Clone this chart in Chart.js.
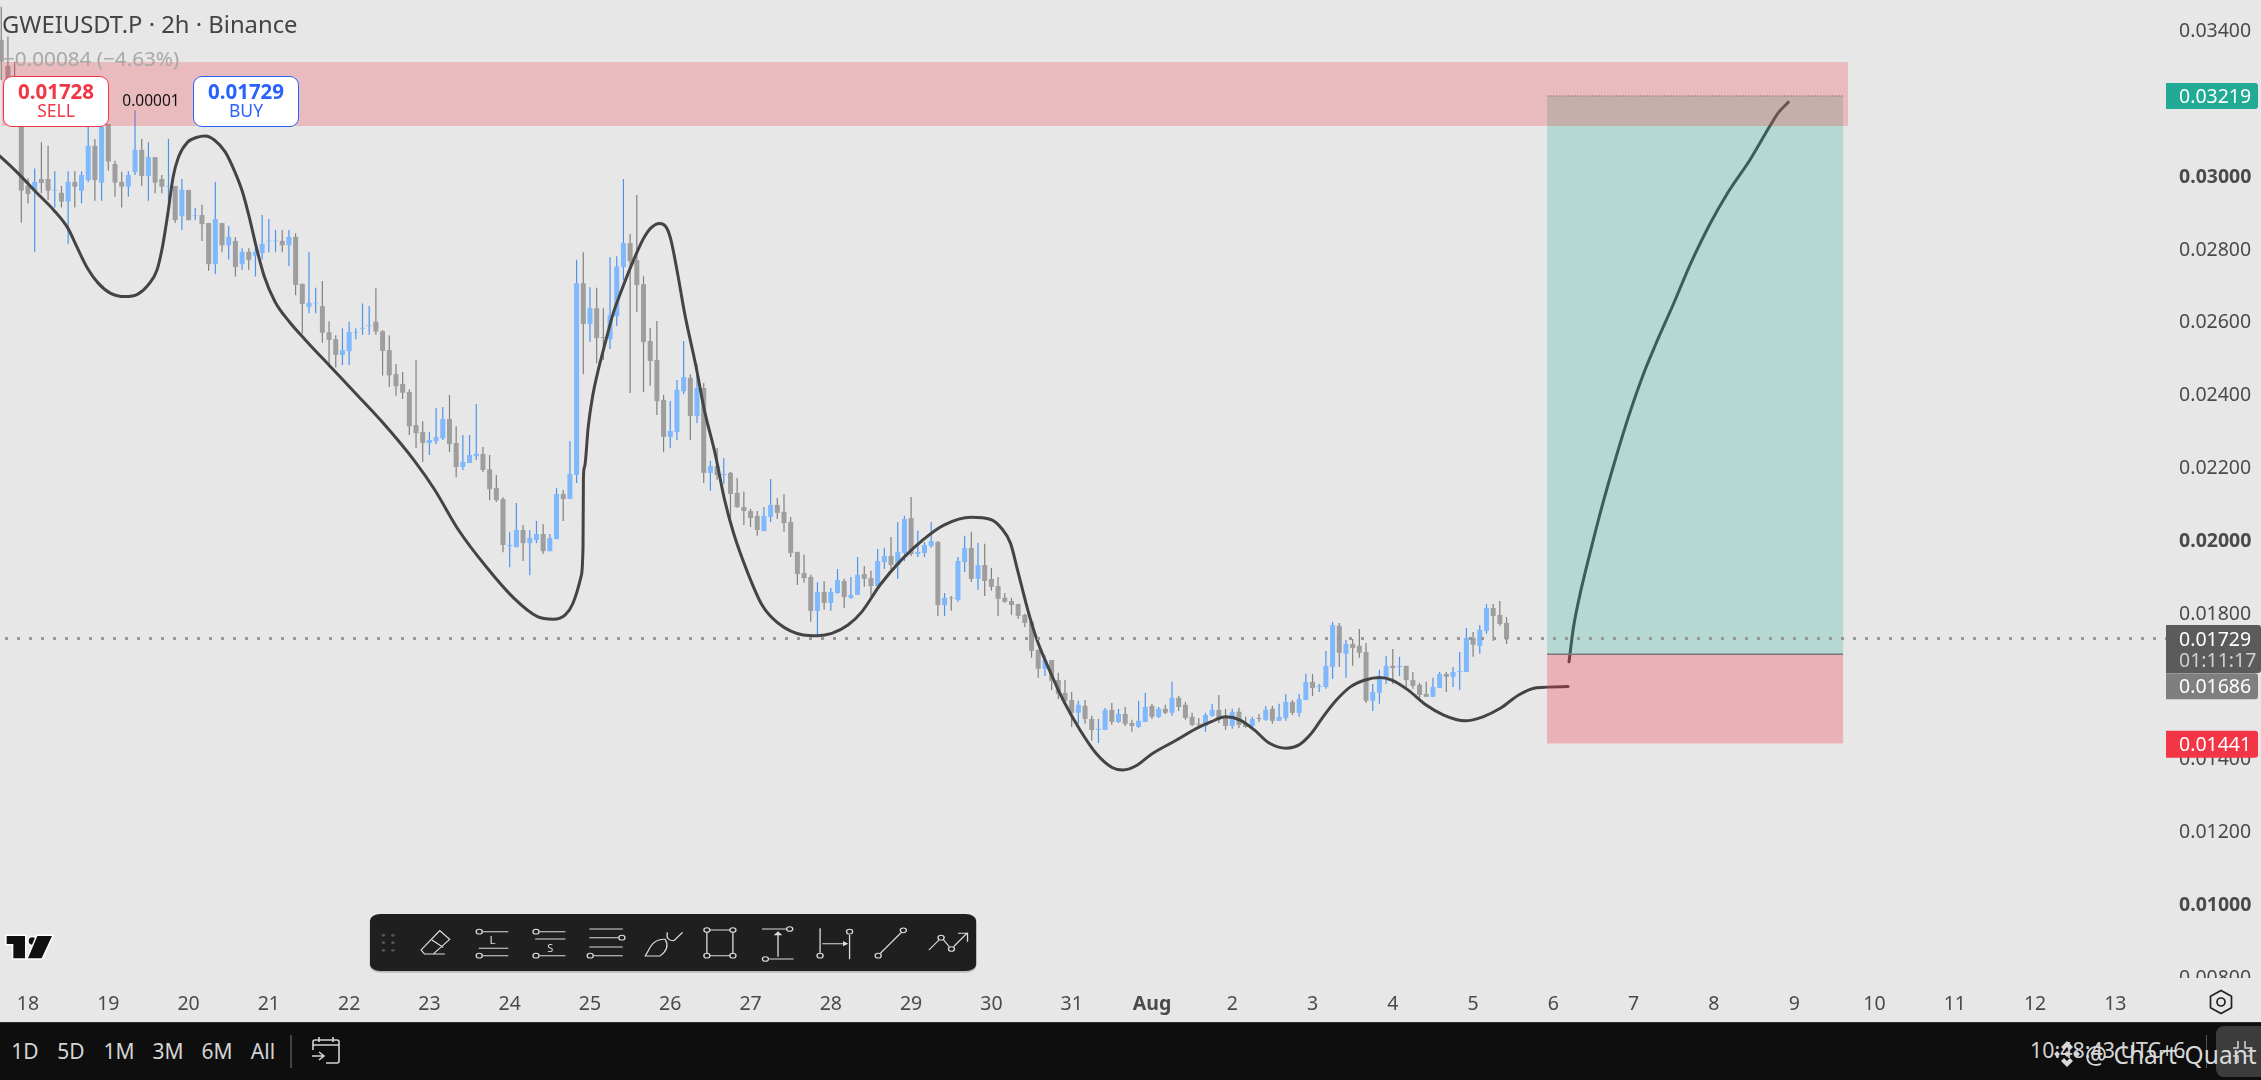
<!DOCTYPE html>
<html><head><meta charset="utf-8">
<script src="https://cdn.jsdelivr.net/npm/chart.js@4"></script>
<style>
html,body{margin:0;padding:0;background:#e7e7e7;overflow:hidden;width:2261px;height:1080px}
canvas{position:absolute;left:0;top:0}
.t{position:absolute;white-space:nowrap;font-family:"Noto Sans",sans-serif;line-height:1;transform:translateY(-50%)}
.c{transform:translate(-50%,-50%)}
.order{position:absolute;top:76px;height:50.5px;background:#fff;border-radius:9px;box-sizing:border-box;border:1.5px solid}
#bar{position:absolute;left:0;top:1022px;width:2261px;height:58px;background:#0e0e0e;border-top:1px solid #2a2a2a;box-sizing:border-box}
svg{position:absolute}
</style></head><body>
<canvas id="c" width="2261" height="1080"></canvas>

<div class="t" style="left:2px;top:25px;font-size:23.8px;color:#444">GWEIUSDT.P · 2h · Binance</div>
<div class="t" style="left:3px;top:58px;font-size:20.7px;color:#a8a8a8">−0.00084 (−4.63%)</div>
<div class="order" style="left:3px;width:106px;border-color:#f23645"></div>
<div class="t c" style="left:56px;top:91px;font-size:20.5px;font-weight:700;color:#f23645">0.01728</div>
<div class="t c" style="left:56px;top:111px;font-size:17.5px;color:#f23645">SELL</div>
<div class="t c" style="left:151px;top:101px;font-size:15.5px;color:#111">0.00001</div>
<div class="order" style="left:193px;width:106px;border-color:#2962ff"></div>
<div class="t c" style="left:246px;top:91px;font-size:20.5px;font-weight:700;color:#2962ff">0.01729</div>
<div class="t c" style="left:246px;top:111px;font-size:17.5px;color:#2962ff">BUY</div>

<svg style="left:0;top:925px" width="70" height="45" viewBox="0 0 210 135">
 <g fill="#111" stroke="#fff" stroke-width="9" paint-order="stroke" stroke-linejoin="miter">
 <path d="M20 33H75V100H40V57H20Z"/><circle cx="97" cy="48" r="11"/><path d="M112 33H156L125 100H84Z"/></g>
</svg>

<svg style="left:340px;top:900px" width="680" height="180" viewBox="0 0 1568 540" preserveAspectRatio="none">
 <rect x="69" y="46" width="1398" height="172" rx="24" ry="20" fill="#888" opacity=".45"/>
 <rect x="69" y="42" width="1398" height="171" rx="24" ry="20" fill="#1f1f1f"/>
 <g fill="#555"><circle cx="100" cy="106" r="4"/><circle cx="122" cy="106" r="4"/><circle cx="100" cy="128" r="4"/><circle cx="122" cy="128" r="4"/><circle cx="100" cy="151" r="4"/><circle cx="122" cy="151" r="4"/></g>
 <g fill="none" stroke="#dcdcdc" stroke-width="3">
  <path d="M230 92L253 118L215 162H195L187 150Z M212 120L238 142 M215 162H242"/>
  <circle cx="321" cy="95" r="7"/><path d="M328 95H388M320 145H388M328 167H388"/><circle cx="321" cy="167" r="7"/>
  <circle cx="452" cy="95" r="7"/><path d="M460 95H520M450 117H520M460 167H520"/><circle cx="452" cy="167" r="7"/>
  <path d="M575 87H652M575 113H642M575 141H652M585 167H652"/><circle cx="650" cy="113" r="7"/><circle cx="577" cy="167" r="7"/>
  <path d="M704 168L716 140Q728 116 750 118Q762 145 738 168Z M755 97Q750 122 770 122L790 97"/>
  <path d="M846 90H906V167H846Z"/><g fill="#1f1f1f"><circle cx="846" cy="90" r="7"/><circle cx="906" cy="90" r="7"/><circle cx="846" cy="167" r="7"/><circle cx="906" cy="167" r="7"/></g>
  <path d="M973 87H1030M1010 170V100M990 177H1046"/><circle cx="1037" cy="87" r="7"/><circle cx="981" cy="177" r="7"/>
  <path d="M1107 85V158M1175 105V178M1112 131H1162"/><circle cx="1107" cy="167" r="7"/><circle cx="1175" cy="95" r="7"/>
  <path d="M1246 160L1294 98"/><circle cx="1241" cy="167" r="7"/><circle cx="1299" cy="91" r="7"/>
  <path d="M1358 150L1381 120M1392 120L1405 140M1415 140L1447 98M1425 100H1447V125"/><circle cx="1386" cy="113" r="7"/><circle cx="1410" cy="147" r="7"/>
 </g>
 <path d="M1000 106L1010 94L1020 106ZM1160 123L1172 131L1160 139Z" fill="#dcdcdc"/>
 <text x="352" y="132" font-family="Noto Sans" font-size="30" fill="#dcdcdc" text-anchor="middle" textLength="14" lengthAdjust="spacingAndGlyphs">L</text>
 <text x="485" y="155" font-family="Noto Sans" font-size="30" fill="#dcdcdc" text-anchor="middle" textLength="14" lengthAdjust="spacingAndGlyphs">S</text>
</svg>

<svg style="left:2206px;top:988px" width="30" height="28" viewBox="0 0 30 28">
 <path d="M15 2.5L25.5 8.2V19.8L15 25.5L4.5 19.8V8.2Z" fill="none" stroke="#222" stroke-width="1.7"/>
 <circle cx="15" cy="14" r="4" fill="none" stroke="#222" stroke-width="1.7"/>
</svg>

<div id="bar"></div>
<div class="t c" style="left:25px;top:1050.5px;font-size:21px;color:#d4d4d4">1D</div>
<div class="t c" style="left:71px;top:1050.5px;font-size:21px;color:#d4d4d4">5D</div>
<div class="t c" style="left:119px;top:1050.5px;font-size:21px;color:#d4d4d4">1M</div>
<div class="t c" style="left:168px;top:1050.5px;font-size:21px;color:#d4d4d4">3M</div>
<div class="t c" style="left:217px;top:1050.5px;font-size:21px;color:#d4d4d4">6M</div>
<div class="t c" style="left:263px;top:1050.5px;font-size:21px;color:#d4d4d4">All</div>
<div style="position:absolute;left:290px;top:1035px;width:2px;height:33px;background:#444"></div>
<svg style="left:310px;top:1035px" width="32" height="32" viewBox="0 0 32 32" fill="none" stroke="#d4d4d4" stroke-width="1.6">
 <path d="M3 15V7Q3 5 5 5H27Q29 5 29 7V26Q29 28 27 28H16M3 10H29M9 2V7M23 2V7M2 21H13M9 17L14 21L9 25"/>
</svg>
<div style="position:absolute;left:2206px;top:1035px;width:1px;height:33px;background:#555"></div>
<div style="position:absolute;left:2216px;top:1026px;width:45px;height:51px;background:#3c3c3c;border-radius:8px 0 0 8px"></div>
<svg style="left:2232px;top:1040px" width="24" height="24" viewBox="0 0 24 24" fill="none" stroke="#cfcfcf" stroke-width="1.6">
 <path d="M1 8H6V1M13 1V8H19M1 16H6V23M13 23V16H19"/>
</svg>
<div class="t" style="left:2030px;top:1050px;font-size:21.4px;color:#d4d4d4">10:48:43 UTC+6</div>
<svg style="left:2054px;top:1040px" width="26" height="30" viewBox="0 0 26 30" fill="#d8d8d8">
 <path d="M13 1L19 7L16 10L13 7L10 10L7 7ZM3 11L6 14L3 17L0 14ZM23 11L26 14L23 17L20 14ZM13 11L16 14L13 17L10 14ZM7 21L10 18L13 21L16 18L19 21L13 27Z"/>
</svg>
<div class="t" style="left:2085px;top:1055px;font-size:24.5px;color:#d8d8d8">@ Chart-Quant</div>

<script>
// Candles: 2h bars of GWEIUSDT.P, bar 0 = 18 Jul 00:00; the list begins four bars earlier.
const firstBar = -4;
const opens = [.03373,.03301,.03263,.03180,
.02973,.02959,.02991,.02991,.02959,.02953,.02929,.02983,.02959,.02988,
.03082,.02981,.03142,.03032,.02983,.02970,.03010,.03071,.02999,.03051,
.02991,.02970,.02972,.02889,.02961,.02889,.02892,.02870,.02757,.02870,
.02809,.02821,.02757,.02791,.02780,.02788,.02820,.02820,.02821,.02809,
.02832,.02703,.02640,.02649,.02642,.02570,.02551,.02508,.02518,.02569,
.02580,.02588,.02599,.02573,.02521,.02455,.02428,.02406,.02315,.02296,
.02266,.02271,.02279,.02332,.02266,.02200,.02211,.02230,.02236,.02194,
.02142,.02112,.01983,.01980,.02027,.01991,.01999,.02016,.01969,.02002,
.02126,.02112,.02178,.02705,.02593,.02636,.02557,.02551,.02614,.02749,
.02815,.02768,.02702,.02546,.02494,.02384,.02283,.02296,.02408,.02445,
.02340,.02417,.02184,.02203,.02178,.02184,.02129,.02090,.02079,.02066,
.02024,.02063,.02096,.02077,.02049,.01967,.01909,.01898,.01805,.01857,
.01827,.01854,.01887,.01841,.01849,.01906,.01895,.01873,.01939,.01956,
.01931,.01964,.02060,.01961,.01964,.01983,.01994,.01821,.01841,.01835,
.01939,.01978,.01893,.01931,.01893,.01873,.01841,.01832,.01824,.01794,
.01775,.01698,.01646,.01670,.01615,.01580,.01560,.01525,.01544,.01508,
.01478,.01478,.01533,.01500,.01522,.01497,.01486,.01500,.01544,.01514,
.01536,.01525,.01566,.01547,.01514,.01495,.01489,.01517,.01533,.01514,
.01489,.01528,.01495,.01489,.01511,.01506,.01536,.01503,.01511,.01555,
.01525,.01560,.01610,.01596,.01596,.01651,.01764,.01687,.01714,.01709,
.01692,.01558,.01580,.01618,.01654,.01651,.01654,.01615,.01602,.01577,
.01569,.01593,.01632,.01624,.01637,.01637,.01731,.01709,.01750,.01813,
.01794,.01772];
const closes = [.03313,.03208,.03208,.02959,
.02950,.02983,.02980,.02959,.02961,.02929,.02983,.02970,.03002,.03082,
.02988,.03134,.03039,.02981,.02970,.03002,.03071,.02999,.03051,.02981,
.02970,.02972,.02878,.02961,.02878,.02891,.02867,.02757,.02881,.02809,
.02832,.02749,.02791,.02769,.02791,.02813,.02822,.02822,.02809,.02832,
.02700,.02648,.02651,.02651,.02569,.02549,.02508,.02521,.02571,.02571,
.02582,.02590,.02572,.02519,.02452,.02422,.02404,.02312,.02293,.02266,
.02274,.02282,.02332,.02263,.02200,.02214,.02233,.02236,.02192,.02139,
.02109,.01986,.01986,.02027,.01991,.02005,.02016,.01969,.02005,.02126,
.02112,.02181,.02705,.02593,.02636,.02554,.02554,.02617,.02751,.02815,
.02765,.02700,.02543,.02491,.02381,.02283,.02299,.02412,.02447,.02340,
.02417,.02184,.02203,.02178,.02181,.02126,.02090,.02079,.02060,.02027,
.02066,.02096,.02074,.02046,.01964,.01906,.01895,.01805,.01857,.01827,
.01857,.01890,.01843,.01849,.01904,.01893,.01873,.01942,.01956,.01931,
.01967,.02057,.01961,.01967,.01986,.01997,.01821,.01841,.01839,.01942,
.01978,.01893,.01931,.01887,.01871,.01838,.01830,.01821,.01791,.01772,
.01695,.01646,.01670,.01613,.01577,.01558,.01525,.01547,.01508,.01478,
.01481,.01533,.01500,.01522,.01495,.01489,.01503,.01541,.01514,.01536,
.01525,.01566,.01541,.01511,.01492,.01492,.01519,.01533,.01511,.01489,
.01527,.01492,.01486,.01508,.01508,.01533,.01503,.01514,.01555,.01525,
.01563,.01610,.01593,.01599,.01654,.01766,.01690,.01714,.01703,.01690,
.01558,.01582,.01621,.01654,.01648,.01654,.01615,.01599,.01574,.01569,
.01596,.01632,.01624,.01637,.01640,.01731,.01712,.01753,.01813,.01791,
.01769,.01728];
const highs = [.03464,.03382,.03313,.03208,
.02993,.03020,.03092,.03082,.03012,.02972,.03012,.03012,.03012,.03135,
.03101,.03142,.03142,.03041,.03011,.03012,.03180,.03101,.03092,.03051,
.03002,.03101,.02972,.02991,.02961,.02911,.02920,.02870,.02983,.02870,
.02862,.02832,.02801,.02801,.02801,.02892,.02881,.02851,.02851,.02851,
.02842,.02703,.02790,.02692,.02711,.02600,.02562,.02581,.02599,.02581,
.02649,.02642,.02691,.02576,.02562,.02483,.02461,.02413,.02494,.02326,
.02296,.02362,.02365,.02398,.02312,.02288,.02288,.02373,.02255,.02233,
.02178,.02117,.02021,.02101,.02041,.02027,.02052,.02043,.02016,.02142,
.02137,.02271,.02769,.02790,.02694,.02692,.02636,.02776,.02779,.02991,
.02840,.02947,.02724,.02582,.02601,.02398,.02381,.02439,.02546,.02455,
.02483,.02431,.02217,.02252,.02225,.02187,.02170,.02132,.02085,.02079,
.02090,.02167,.02115,.02126,.02063,.01967,.01959,.01904,.01884,.01887,
.01868,.01920,.01893,.01898,.01953,.01928,.01915,.01975,.01978,.02008,
.02049,.02066,.02118,.02025,.01994,.02049,.01997,.01854,.01846,.01953,
.02011,.02022,.01992,.01989,.01923,.01898,.01854,.01841,.01824,.01797,
.01780,.01698,.01684,.01670,.01635,.01615,.01582,.01558,.01560,.01517,
.01508,.01538,.01552,.01536,.01541,.01506,.01558,.01580,.01549,.01541,
.01547,.01610,.01571,.01555,.01525,.01511,.01525,.01549,.01574,.01536,
.01536,.01539,.01514,.01514,.01522,.01544,.01544,.01550,.01577,.01560,
.01577,.01632,.01632,.01604,.01695,.01775,.01772,.01725,.01728,.01755,
.01717,.01604,.01643,.01681,.01700,.01679,.01654,.01637,.01607,.01610,
.01621,.01637,.01637,.01651,.01692,.01758,.01747,.01766,.01824,.01824,
.01832,.01788];
const lows = [.03263,.03171,.03144,.02871,
.02924,.02791,.02952,.02933,.02913,.02913,.02813,.02913,.02924,.02983,
.02931,.02931,.03014,.02942,.02913,.02942,.03002,.02972,.02931,.02952,
.02952,.02931,.02871,.02851,.02878,.02878,.02821,.02739,.02730,.02790,
.02770,.02723,.02741,.02741,.02723,.02770,.02790,.02790,.02790,.02752,
.02672,.02567,.02622,.02622,.02541,.02475,.02473,.02480,.02480,.02551,
.02563,.02563,.02563,.02451,.02420,.02396,.02387,.02288,.02252,.02214,
.02233,.02263,.02274,.02241,.02172,.02192,.02211,.02219,.02186,.02109,
.02104,.01966,.01925,.01980,.01942,.01903,.01991,.01961,.01969,.02002,
.02052,.02112,.02156,.02455,.02543,.02485,.02494,.02524,.02587,.02713,
.02403,.02626,.02406,.02423,.02343,.02241,.02252,.02274,.02400,.02274,
.02321,.02156,.02135,.02165,.02153,.02041,.02088,.02041,.02035,.02011,
.02024,.02049,.02057,.02022,.01953,.01876,.01882,.01775,.01736,.01808,
.01805,.01852,.01813,.01838,.01849,.01871,.01846,.01873,.01920,.01920,
.01893,.01942,.01956,.01953,.01953,.01978,.01791,.01791,.01805,.01830,
.01912,.01884,.01862,.01846,.01860,.01791,.01827,.01794,.01783,.01761,
.01676,.01621,.01626,.01588,.01563,.01547,.01486,.01495,.01495,.01448,
.01442,.01478,.01492,.01497,.01489,.01473,.01484,.01500,.01508,.01511,
.01522,.01517,.01530,.01506,.01489,.01486,.01473,.01514,.01497,.01478,
.01481,.01483,.01484,.01481,.01500,.01503,.01495,.01503,.01503,.01519,
.01514,.01560,.01571,.01582,.01591,.01618,.01651,.01621,.01654,.01676,
.01552,.01530,.01550,.01604,.01604,.01626,.01595,.01591,.01566,.01569,
.01569,.01593,.01582,.01596,.01588,.01637,.01679,.01687,.01742,.01722,
.01764,.01714];

// Hand-drawn curve and the projected path, in bar number / price.
const curveBars = [-4.2,-1.51,1.15,3.83,5.96,7.29,8.89,10.49,12.36,14.5,16.36,17.97,19.28,20.1,20.91,21.7,22.51,23.84,25.17,26.52,27.85,29.45,30.79,32.12,33.18,34.23,35.32,36.92,39.06,41.46,45.44,48.98,53.12,57.85,60.81,64.35,68.49,72.62,76.16,78.53,80.3,81.46,82.66,82.96,83.02,83.2,83.74,84.38,85.23,86.4,87.47,88.55,90.42,92.02,93.08,94.41,95.49,96.11,97.09,98.15,99.85,101.09,102.69,104.13,105.47,107.61,109.72,112.14,115.87,118.01,120.15,122.56,124.66,127.35,130.55,133.77,136.97,140.96,143.9,145.5,146.85,147.91,149.51,150.82,152.45,154.84,157.25,159.64,162.03,163.66,165.77,167.82,171.55,174.74,176.89,179.03,181.17,183.3,185.44,188.1,189.98,191.84,193.42,195.57,197.71,199.85,201.99,203.85,206.26,208.92,211.6,214.8,217.47,220.13,222.81,225.46,230.18];
const curvePrices = [.03054,.03007,.02956,.02906,.02856,.02805,.02746,.02705,.02677,.02668,.02674,.02700,.02741,.02805,.02897,.02997,.03052,.03092,.03105,.03109,.03098,.03066,.03016,.02952,.02878,.02796,.02723,.02654,.02599,.02549,.02471,.02402,.02320,.02215,.02137,.02027,.01926,.01840,.01789,.01782,.01794,.01826,.01899,.01981,.02173,.02201,.02311,.02393,.02466,.02549,.02622,.02677,.02764,.02828,.02856,.02869,.02856,.02823,.02732,.02622,.02476,.02357,.02238,.02109,.02018,.01908,.01821,.01771,.01739,.01737,.01743,.01766,.01803,.01876,.01945,.02000,.02041,.02062,.02056,.02032,.01991,.01917,.01803,.01725,.01652,.01556,.01478,.01414,.01375,.01368,.01381,.01410,.01449,.01483,.01501,.01514,.01505,.01478,.01443,.01428,.01437,.01469,.01510,.01560,.01597,.01615,.01622,.01615,.01588,.01547,.01519,.01503,.01514,.01538,.01574,.01594,.01597];
const pathBars = [230.34,230.99,231.99,233.48,235.23,237.22,239.21,241.45,243.2,245.93,248.43,251.42,254.16,257.4,260.39,261.63,263.12];
const pathPrices = [.01665,.01758,.01851,.01964,.02089,.02218,.02337,.02455,.02533,.02647,.02755,.02868,.02956,.03044,.03137,.03173,.03202];

// Drawn zones and position tool.
const zoneBars = [-3.9, 272.05];
const zonePrices = [.03312, .031365];
const positionBars = [227.06, 271.3];
const entryPrice = .01686, targetPrice = .03219, stopPrice = .01441, lastPrice = .01729;

// Axes.
const priceTicks = [.034,.030,.028,.026,.024,.022,.020,.018,.016,.014,.012,.010,.008];
const boldPrices = [.030,.020,.010];
const dayLabels = ['18','19','20','21','22','23','24','25','26','27','28','29','30','31','Aug','2','3','4','5','6','7','8','9','10','11','12','13'];
const barsPerDay = 12;
const FONT = '"Noto Sans",sans-serif';

const bars = opens.map((o,k)=>k+firstBar);
const up = opens.map((o,k)=>closes[k]>=o);

const overlays = {
  id:'overlays',
  afterDatasetsDraw(chart){
    const {ctx,scales:{x,y},chartArea:a}=chart;
    const box=(b0,b1,p0,p1,col)=>{ctx.fillStyle=col;ctx.fillRect(x.getPixelForValue(b0),y.getPixelForValue(p0),x.getPixelForValue(b1)-x.getPixelForValue(b0),y.getPixelForValue(p1)-y.getPixelForValue(p0));};
    ctx.save();
    box(positionBars[0],positionBars[1],targetPrice,entryPrice,'rgba(34,171,148,.25)');
    box(positionBars[0],positionBars[1],entryPrice,stopPrice,'rgba(242,54,69,.3)');
    const xa=x.getPixelForValue(positionBars[0]),xb=x.getPixelForValue(positionBars[1]);
    ctx.strokeStyle='#787878';ctx.lineWidth=1.5;
    ctx.beginPath();ctx.moveTo(xa,y.getPixelForValue(entryPrice));ctx.lineTo(xb,y.getPixelForValue(entryPrice));ctx.stroke();
    ctx.lineWidth=1;ctx.setLineDash([1.5,1.5]);
    ctx.beginPath();ctx.moveTo(xa,y.getPixelForValue(targetPrice));ctx.lineTo(xb,y.getPixelForValue(targetPrice));ctx.stroke();
    box(zoneBars[0],zoneBars[1],zonePrices[0],zonePrices[1],'rgba(242,54,69,.25)');
    ctx.strokeStyle='#979797';ctx.lineWidth=3;ctx.setLineDash([3,9]);
    ctx.beginPath();const ly=y.getPixelForValue(lastPrice);ctx.moveTo(a.left+5,ly);ctx.lineTo(a.right-2,ly);ctx.stroke();
    ctx.restore();
  },
  afterDraw(chart){
    const {ctx,scales:{y},chartArea:a}=chart;
    ctx.save();
    // the price scale ends with the pane, cutting its last label
    ctx.fillStyle='#e7e7e7';ctx.fillRect(a.right,a.bottom,2261-a.right,1022-a.bottom);
    const L=a.right-2,TX=2179;
    const tag=(value,dy,h,w,col,label)=>{
      const cy=y.getPixelForValue(value)+dy;
      ctx.fillStyle=col;ctx.beginPath();ctx.roundRect(L,cy-h/2,w,h,[0,3,3,0]);ctx.fill();
      ctx.fillStyle='#fff';ctx.font='19.5px '+FONT;ctx.textAlign='left';ctx.textBaseline='middle';ctx.fillText(label,TX,cy+1.5);
    };
    tag(targetPrice,0,26,92,'#22ab94',targetPrice.toFixed(5));
    tag(stopPrice,.8,27,92,'#f23645',stopPrice.toFixed(5));
    tag(entryPrice,32,26,92,'#7f7f7f',entryPrice.toFixed(5));
    tag(lastPrice,10.5,48,95,'#5b5b5b','');
    ctx.fillStyle='#fff';ctx.font='19.5px '+FONT;ctx.textAlign='left';ctx.textBaseline='middle';
    ctx.fillText(lastPrice.toFixed(5),TX,y.getPixelForValue(lastPrice)+1.5);
    ctx.fillStyle='#cfcfcf';ctx.fillText('01:11:17',TX,y.getPixelForValue(lastPrice)+22.5);
    ctx.restore();
  }
};

Chart.defaults.font.family=FONT;
new Chart(document.getElementById('c'),{
  type:'bar',
  data:{datasets:[
    {type:'line',order:0,data:curveBars.map((b,k)=>({x:b,y:curvePrices[k]})),borderColor:'#444',borderWidth:3,pointRadius:0,cubicInterpolationMode:'monotone',borderCapStyle:'round'},
    {type:'line',order:0,data:pathBars.map((b,k)=>({x:b,y:pathPrices[k]})),borderColor:'#444',borderWidth:3,pointRadius:0,cubicInterpolationMode:'monotone',borderCapStyle:'round'},
    {order:1,grouped:false,barThickness:5,inflateAmount:0,borderWidth:0,
     data:bars.map((b,k)=>({x:b,y:[opens[k],closes[k]]})),
     backgroundColor:up.map(u=>u?'#7fb8fc':'#9e9e9e')},
    {order:2,grouped:false,barThickness:1.2,inflateAmount:0,borderWidth:0,
     data:bars.map((b,k)=>({x:b,y:[lows[k],highs[k]]})),
     backgroundColor:up.map(u=>u?'#4d93ee':'#808080')}
  ]},
  options:{
    responsive:false,animation:false,devicePixelRatio:1,
    layout:{padding:0,autoPadding:false},
    plugins:{legend:{display:false},tooltip:{enabled:false}},
    events:[],
    scales:{
      x:{type:'linear',offset:false,min:-4.185,max:319.87,
        grid:{display:false,drawTicks:false,offset:false},border:{display:false},
        afterBuildTicks:s=>{s.ticks=dayLabels.map((l,k)=>({value:k*barsPerDay}));},
        afterFit:s=>{s.height=102;s.paddingLeft=0;s.paddingRight=0;},
        ticks:{autoSkip:false,maxRotation:0,padding:15,color:'#4a4a4a',
          callback:(v,k)=>dayLabels[k],
          font:c=>({size:19.5,family:FONT,weight:dayLabels[c.index]==='Aug'?'700':'400'})}
      },
      y:{type:'linear',position:'right',min:.007968,max:.034825,
        grid:{display:false,drawTicks:false},border:{display:false},
        afterBuildTicks:s=>{s.ticks=priceTicks.map(v=>({value:v}));},
        afterFit:s=>{s.width=93;s.paddingTop=0;s.paddingBottom=0;},
        ticks:{autoSkip:false,padding:11,labelOffset:1.5,color:'#4a4a4a',
          callback:v=>v.toFixed(5),
          font:c=>({size:19.5,family:FONT,weight:(c.tick&&boldPrices.some(b=>Math.abs(b-c.tick.value)<1e-6))?'700':'400'})}
      }
    }
  },
  plugins:[overlays]
});
</script>
</body></html>
